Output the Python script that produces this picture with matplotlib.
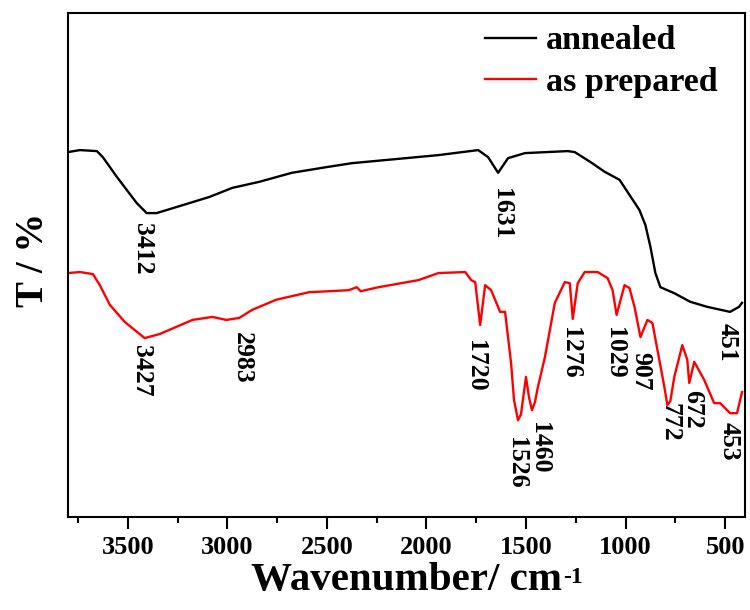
import matplotlib
matplotlib.use("Agg")
import matplotlib.pyplot as plt
from matplotlib.ticker import MultipleLocator

plt.rcParams['font.family'] = ['Liberation Serif', 'DejaVu Serif']
plt.rcParams['font.weight'] = 'bold'

#%% data (wavenumber in cm-1, transmittance in arbitrary units)
wn_annealed = [3800, 3740, 3655, 3625, 3555, 3455, 3405, 3355, 3255, 3090,
               2975, 2840, 2675, 2505, 2375, 1940, 1740, 1690, 1640, 1590,
               1505, 1290, 1255, 1175, 1105, 1030, 980, 930, 900, 875,
               850, 825, 755, 675, 590, 475, 430, 415]
T_annealed = [72.4, 72.8, 72.6, 71.4, 67.5, 62.3, 60.3, 60.3, 61.5, 63.5,
              65.3, 66.5, 68.3, 69.4, 70.2, 71.8, 72.8, 71.4, 68.3, 71.2,
              72.2, 72.6, 72.4, 70.4, 68.5, 66.9, 63.9, 60.9, 57.9, 53.6,
              48.4, 45.6, 44.4, 42.7, 41.7, 40.7, 41.7, 42.5]

wn_prepared = [3800, 3740, 3675, 3640, 3590, 3515, 3415, 3340, 3175, 3075,
               3005, 2940, 2875, 2755, 2590, 2390, 2350, 2330, 2240, 2040,
               1940, 1805, 1775, 1755, 1730, 1705, 1675, 1630, 1605, 1575,
               1560, 1540, 1525, 1500, 1485, 1470, 1455, 1440, 1405, 1355,
               1305, 1280, 1265, 1240, 1205, 1140, 1090, 1065, 1045, 1005,
               980, 955, 925, 890, 865, 805, 790, 775, 755, 715,
               690, 680, 655, 605, 555, 525, 475, 440, 415]
T_prepared = [48.4, 48.6, 48.2, 46.0, 42.1, 38.7, 35.5, 36.3, 39.1, 39.7,
              39.1, 39.5, 41.1, 43.1, 44.6, 45.0, 45.6, 44.8, 45.6, 47.0,
              48.4, 48.6, 47.0, 46.6, 38.1, 46.0, 45.0, 40.7, 40.7, 30.6,
              23.2, 19.2, 20.4, 27.8, 23.8, 21.2, 22.8, 25.8, 31.7, 42.5,
              46.6, 46.4, 39.3, 46.4, 48.6, 48.6, 47.4, 45.0, 40.1, 46.0,
              45.4, 41.7, 35.7, 39.1, 38.5, 25.8, 22.2, 23.0, 27.8, 34.1,
              31.2, 26.6, 30.8, 27.2, 22.6, 22.6, 20.6, 20.6, 24.8]

peak_labels = ['3412', '1631', '451', '3427', '2983', '1720', '1526',
               '1460', '1276', '1029', '907', '772', '672', '453']
peak_wn = [3425, 1625, 490, 3430, 2925, 1755, 1550,
           1430, 1275, 1055, 925, 775, 665, 480]
peak_T = [58.3, 65.3, 38.5, 34.1, 36.7, 35.1, 15.9,
          18.8, 37.7, 37.7, 32.7, 22.6, 25.2, 18.8]

#%% plot
fig = plt.figure(figsize=(7.5, 6.1), dpi=100)
ax = fig.add_axes([68 / 750, 1 - 517 / 610, 677 / 750, 504 / 610])

ax.plot(wn_annealed, T_annealed, color='black', lw=1.7, label='annealed')
ax.plot(wn_prepared, T_prepared, color='red', lw=1.7, label='as prepared')

for lab, x, y in zip(peak_labels, peak_wn, peak_T):
    ax.text(x, y, lab, rotation=-90, ha='center', va='top', fontsize=18.5,
            fontweight='bold')

ax.set_xlim(3800, 400)
ax.set_ylim(0, 100)
ax.xaxis.set_major_locator(MultipleLocator(500))
ax.xaxis.set_minor_locator(MultipleLocator(250))
ax.tick_params(axis='x', which='major', length=8.5, width=1.5, labelsize=19, pad=5)
ax.tick_params(axis='x', which='minor', length=4.5, width=1.5)
ax.set_yticks([])
for s in ax.spines.values():
    s.set_linewidth(1.5)

ax.set_xlabel('Wavenumber/ cm', fontsize=29.5, fontweight='bold', labelpad=2)
ax.set_ylabel('T / %', fontsize=28, fontweight='bold')
ax.yaxis.set_label_coords(-0.023, 0.51)

ax.legend(loc='upper right', bbox_to_anchor=(0.985, 1.009), frameon=False,
          fontsize=24.5, handlelength=1.5, handletextpad=0.3, labelspacing=0.3,
          borderaxespad=0.1)

# superscript -1 after the x label
fig.canvas.draw()
bb = ax.xaxis.label.get_window_extent()
fig.text((bb.x1 + 1) / 750, (bb.y1 - 5) / 610, '-1', fontsize=17,
         fontweight='bold', ha='left', va='top')

plt.savefig('out.png', dpi=100)
